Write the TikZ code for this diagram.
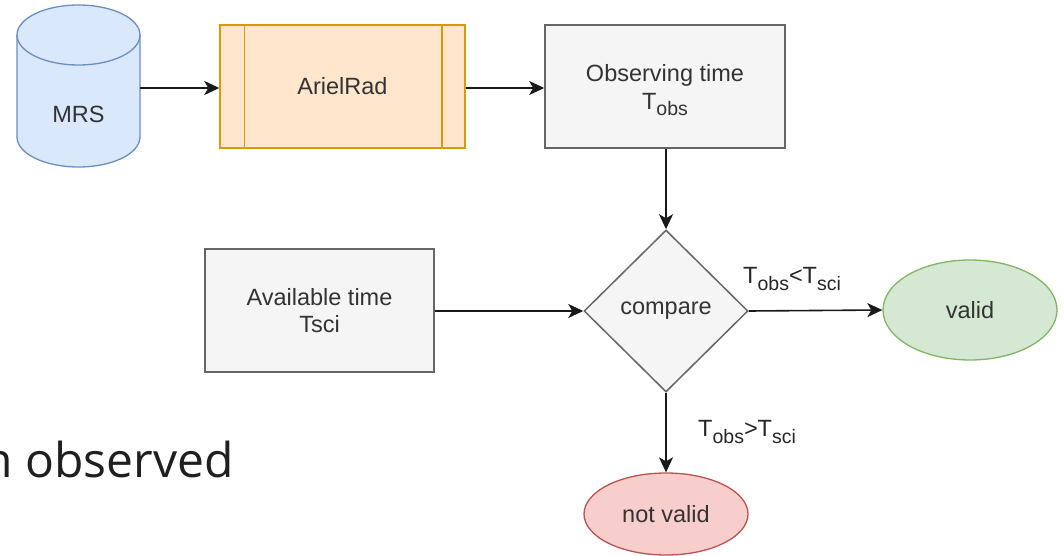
\documentclass[tikz,border=0pt]{standalone}
\usepackage{fontspec}
\setmainfont{Liberation Sans}
\newfontfamily\slidefont{Open Sans}
\usetikzlibrary{shapes.geometric,arrows.meta}

\definecolor{boxfill}{HTML}{F5F5F5}
\definecolor{boxline}{HTML}{666666}
\definecolor{boxtext}{HTML}{333333}
\definecolor{dbfill}{HTML}{DAE8FC}
\definecolor{dbline}{HTML}{6C8EBF}
\definecolor{procfill}{HTML}{FFE6CC}
\definecolor{procline}{HTML}{D79B00}
\definecolor{okfill}{HTML}{D5E8D4}
\definecolor{okline}{HTML}{82B366}
\definecolor{badfill}{HTML}{F8CECC}
\definecolor{badline}{HTML}{B85450}

% lowered, slightly smaller index text
\newcommand\lowidx[1]{\raisebox{-6.5pt}[0pt][0pt]{\fontsize{19.5}{20}\selectfont #1}}

\tikzset{
  every node/.style={font=\fontsize{23.5}{27}\selectfont, text=boxtext, align=center},
  greybox/.style={rectangle, fill=boxfill, draw=boxline, line width=1.5pt,
    minimum width=#1, minimum height=123pt, inner sep=0pt},
  procbox/.style={rectangle, fill=procfill, draw=procline, line width=1.5pt,
    minimum width=245pt, minimum height=123pt, inner sep=0pt},
  decision/.style={diamond, aspect=1, fill=boxfill, draw=boxline, line width=1.5pt,
    minimum width=164pt, minimum height=162pt, inner sep=0pt},
  terminal/.style n args={2}{ellipse, fill=#1, draw=#2, line width=1.3pt, inner sep=0pt},
  flow/.style={draw=black!90, line width=1.6pt,
    -{Stealth[length=15pt,width=14pt,inset=4pt]}},
  cond/.style={text=black!85, inner sep=0pt, anchor=west}
}

\begin{document}
\begin{tikzpicture}[x=1pt,y=1pt]
\useasboundingbox (0,0) rectangle (1064,-556);

% database cylinder
\path[fill=dbfill, draw=dbline, line width=1.3pt]
  (17,-35) -- (17,-137)
  arc[start angle=180, end angle=360, x radius=61.5, y radius=30]
  -- (140,-35)
  arc[start angle=0, end angle=180, x radius=61.5, y radius=30] -- cycle;
\draw[dbline, line width=1.3pt] (17,-35)
  arc[start angle=180, end angle=360, x radius=61.5, y radius=30];
\node[rectangle, minimum width=123pt, minimum height=163pt, inner sep=0pt]
  (mrs) at (78.5,-86.5) {};
\node at (78.5,-114) {MRS};

% processing step with side bars
\node[procbox] (ariel) at (342.5,-86.5) {ArielRad};
\draw[procline, line width=1.5pt]
  ([xshift=25pt]ariel.north west) -- ([xshift=25pt]ariel.south west)
  ([xshift=-24pt]ariel.north east) -- ([xshift=-24pt]ariel.south east);

\node[greybox=240pt] (obs) at (665,-86.5) {Observing time\\[1pt]T\lowidx{obs}};
\node[greybox=229pt] (avail) at (319.5,-310.5) {Available time\\Tsci};

\node[decision] (cmp) at (666,-311) {compare};

\node[terminal={okfill}{okline}, minimum width=174pt, minimum height=100pt]
  (valid) at (970,-310) {valid};
\node[terminal={badfill}{badline}, minimum width=164pt, minimum height=82pt]
  (notvalid) at (666,-514) {not valid};

% connectors
\draw[flow] (mrs.east |- 0,-88) -- (ariel.west |- 0,-88);
\draw[flow] (ariel.east |- 0,-88) -- (obs.west |- 0,-88);
\draw[flow] (obs.south -| cmp.north) -- (cmp.north);
\draw[flow] (avail.east |- cmp.west) -- (cmp.west);
\draw[flow] (cmp.east) -- (valid.west);
\draw[flow] (cmp.south) -- (notvalid.north);

\node[cond] (lt) at (743,-275.5) {T\lowidx{obs}<T\lowidx{sci}};
\node[cond] (gt) at (698,-428.5) {T\lowidx{obs}>T\lowidx{sci}};

% leftover slide caption
\node[font=\slidefont\fontsize{48}{56}\selectfont, text=black!88, inner sep=0pt,
  anchor=base east] (cap) at (234,-477) {n observed};
\end{tikzpicture}
\end{document}
